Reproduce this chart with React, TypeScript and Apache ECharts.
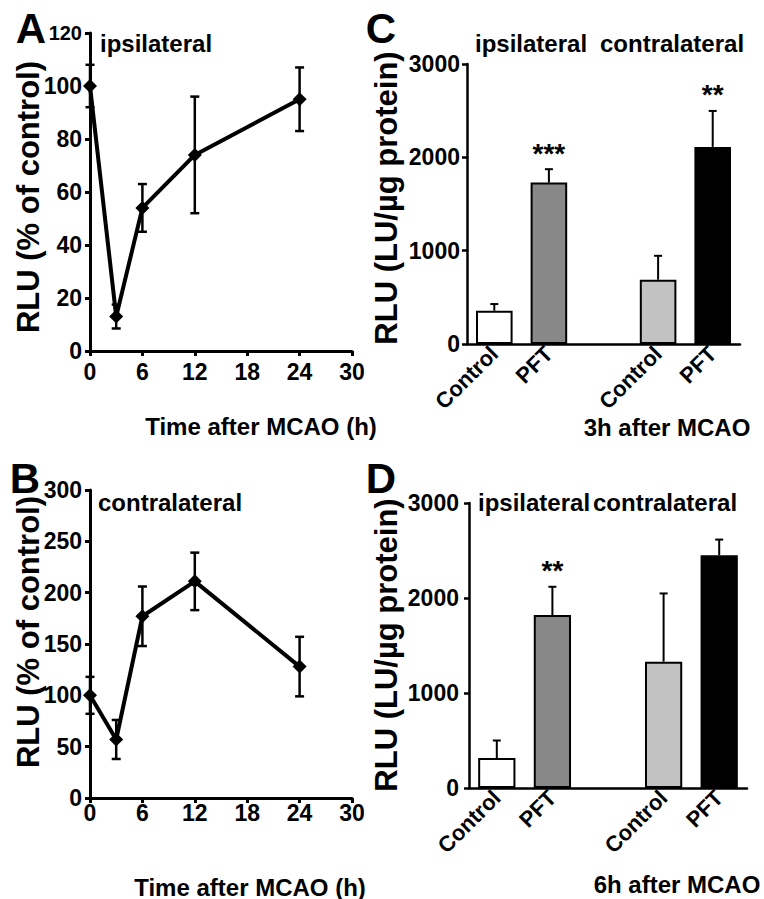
import React, { useEffect, useRef } from 'react';
import * as echarts from 'echarts';

// ---- data ----
const timeHours = [0, 3, 6, 12, 24];
const ipsiMean = [100, 13, 54, 74, 95];
const ipsiErr = [8, 4.5, 9, 22, 12];
const contraMean = [100, 57, 177, 211, 128];
const contraErr = [18, 19, 29, 28, 29];

const timeTicks = [0, 6, 12, 18, 24, 30];

const barCategories = ['Control', 'PFT', '', 'Control', 'PFT'];
const barColors = ['#ffffff', '#888888', '#ffffff', '#c2c2c2', '#000000'];
const bar3hMean = [357, 1730, null, 689, 2112];
const bar3hErr = [71, 143, null, 256, 385];
const bar3hStars = ['', '***', '', '', '**'];
const bar6hMean = [315, 1820, null, 1330, 2450];
const bar6hErr = [185, 298, null, 718, 165];
const bar6hStars = ['', '**', '', '', ''];

const FONT = 'Liberation Sans, Arial, Helvetica, sans-serif';

function lineErrorItem(params: any, api: any) {
  const x = api.value(0);
  const m = api.value(1);
  const e = api.value(2);
  const lo = api.coord([x, m - e]);
  const hi = api.coord([x, m + e]);
  const w = 4.5;
  const style = { stroke: '#000', lineWidth: 2.5 };
  return {
    type: 'group',
    children: [
      { type: 'line', shape: { x1: lo[0], y1: lo[1], x2: hi[0], y2: hi[1] }, style },
      { type: 'line', shape: { x1: lo[0] - w, y1: lo[1], x2: lo[0] + w, y2: lo[1] }, style },
      { type: 'line', shape: { x1: hi[0] - w, y1: hi[1], x2: hi[0] + w, y2: hi[1] }, style },
    ],
  };
}

function makeBarError(stars: string[]) {
  return (params: any, api: any) => {
    const i = api.value(0);
    const m = api.value(1);
    const e = api.value(2);
    const top = api.coord([i, m]);
    const hi = api.coord([i, m + e]);
    const w = 4;
    const style = { stroke: '#000', lineWidth: 2 };
    const children: any[] = [
      { type: 'line', shape: { x1: top[0], y1: top[1], x2: hi[0], y2: hi[1] }, style },
      { type: 'line', shape: { x1: hi[0] - w, y1: hi[1], x2: hi[0] + w, y2: hi[1] }, style },
    ];
    const s = stars[i];
    if (s) {
      children.push({
        type: 'text',
        x: hi[0],
        y: hi[1] - 16,
        style: {
          text: s,
          fontSize: 28,
          fontWeight: 'bold',
          fontFamily: FONT,
          fill: '#000',
          align: 'center',
          verticalAlign: 'middle',
        },
      });
    }
    return { type: 'group', children };
  };
}

const labelStyle = { fontSize: 23, fontWeight: 'bold' as const, fontFamily: FONT, color: '#000' };

function timeXAxis(gridIndex: number, margin: number) {
  return {
    type: 'value',
    gridIndex,
    min: 0,
    max: 30,
    interval: 6,
    axisLine: { show: true, lineStyle: { color: '#000', width: 3 } },
    axisTick: { show: true, length: 5, lineStyle: { color: '#000', width: 3 } },
    axisLabel: { ...labelStyle, margin, formatter: (v: number) => (timeTicks.includes(v) ? String(v) : '') },
    splitLine: { show: false },
  };
}

function valueYAxis(gridIndex: number, max: number, interval: number, width: number, margin: number, small?: number) {
  return {
    type: 'value',
    gridIndex,
    min: 0,
    max,
    interval,
    axisLine: { show: true, lineStyle: { color: '#000', width } },
    axisTick: { show: true, length: 5, lineStyle: { color: '#000', width } },
    axisLabel: {
      ...labelStyle,
      margin,
      formatter: (v: number) => (small !== undefined && v === small ? '{s|' + v + '}' : String(v)),
      rich: { s: { fontSize: 20, fontWeight: 'bold', fontFamily: FONT, color: '#000' } },
    },
    splitLine: { show: false },
  };
}

function catXAxis(gridIndex: number) {
  return {
    type: 'category',
    gridIndex,
    data: barCategories,
    boundaryGap: true,
    axisLine: { show: true, lineStyle: { color: '#000', width: 2.5 } },
    axisTick: { show: false },
    axisLabel: { fontSize: 22, fontWeight: 'bold', fontFamily: FONT, color: '#000', rotate: 45, margin: 6, interval: 0 },
    splitLine: { show: false },
  };
}

function lineSeries(idx: number, means: number[]) {
  return {
    type: 'line',
    xAxisIndex: idx,
    yAxisIndex: idx,
    data: timeHours.map((t, i) => [t, means[i]]),
    symbol: 'diamond',
    symbolSize: 14,
    clip: false,
    z: 3,
    lineStyle: { color: '#000', width: 4 },
    itemStyle: { color: '#000' },
  };
}

function lineErrSeries(idx: number, means: number[], errs: number[]) {
  return {
    type: 'custom',
    xAxisIndex: idx,
    yAxisIndex: idx,
    data: timeHours.map((t, i) => [t, means[i], errs[i]]),
    renderItem: lineErrorItem,
    z: 2,
  };
}

function barSeries(idx: number, means: (number | null)[]) {
  return {
    type: 'bar',
    xAxisIndex: idx,
    yAxisIndex: idx,
    barWidth: '67%',
    data: means.map((v, i) =>
      v === null ? '-' : { value: v, itemStyle: { color: barColors[i], borderColor: '#000', borderWidth: 2 } }
    ),
  };
}

function barErrSeries(idx: number, means: (number | null)[], errs: (number | null)[], stars: string[]) {
  const data: number[][] = [];
  means.forEach((m, i) => {
    if (m !== null && errs[i] !== null) data.push([i, m, errs[i] as number]);
  });
  return {
    type: 'custom',
    xAxisIndex: idx,
    yAxisIndex: idx,
    data,
    renderItem: makeBarError(stars),
    z: 3,
  };
}

function txt(text: string, x: number, y: number, fontSize: number, align: string = 'left', rotation = 0) {
  return {
    type: 'text',
    x,
    y,
    rotation,
    style: {
      text,
      fontSize,
      fontWeight: 'bold',
      fontFamily: FONT,
      fill: '#000',
      align,
      verticalAlign: 'middle',
    },
  };
}

export default function App() {
  const ref = useRef<HTMLDivElement>(null);
  useEffect(() => {
    document.body.style.margin = '0';
    if (!ref.current) return;
    const chart = echarts.init(ref.current, undefined, { renderer: 'svg' });
    const option: any = {
      animation: false,
      backgroundColor: '#ffffff',
      grid: [
        { left: 90, top: 33, width: 262, height: 318 },
        { left: 90, top: 490, width: 262, height: 308 },
        { left: 467, top: 64, width: 273, height: 280 },
        { left: 469, top: 503, width: 278, height: 285 },
      ],
      xAxis: [timeXAxis(0, 9), timeXAxis(1, 3), catXAxis(2), catXAxis(3)],
      yAxis: [
        valueYAxis(0, 120, 20, 3, 8, 120),
        valueYAxis(1, 300, 50, 3, 8),
        valueYAxis(2, 3000, 1000, 2.5, 7),
        valueYAxis(3, 3000, 1000, 2.5, 10),
      ],
      series: [
        lineErrSeries(0, ipsiMean, ipsiErr),
        lineSeries(0, ipsiMean),
        lineErrSeries(1, contraMean, contraErr),
        lineSeries(1, contraMean),
        barSeries(2, bar3hMean),
        barErrSeries(2, bar3hMean, bar3hErr, bar3hStars),
        barSeries(3, bar6hMean),
        barErrSeries(3, bar6hMean, bar6hErr, bar6hStars),
      ],
      graphic: [
        txt('A', 31, 28, 42, 'center'),
        txt('B', 25, 478, 42, 'center'),
        txt('C', 381, 28, 42, 'center'),
        txt('D', 381, 478, 42, 'center'),
        txt('ipsilateral', 100, 43, 24),
        txt('contralateral', 98, 502, 24),
        txt('ipsilateral', 475, 43, 24),
        txt('contralateral', 600, 43, 24),
        txt('ipsilateral', 478, 502, 24),
        txt('contralateral', 593, 502, 24),
        txt('Time after MCAO (h)', 261, 426, 24, 'center'),
        txt('Time after MCAO (h)', 250, 887, 24, 'center'),
        txt('3h after MCAO', 667, 427, 24, 'center'),
        txt('6h after MCAO', 677, 884, 24, 'center'),
        txt('RLU (% of control)', 28, 197, 31, 'center', Math.PI / 2),
        txt('RLU (% of control)', 28, 632, 31, 'center', Math.PI / 2),
        txt('RLU (LU/µg protein)', 386, 198, 31, 'center', Math.PI / 2),
        txt('RLU (LU/µg protein)', 386, 645, 31, 'center', Math.PI / 2),
      ],
    };
    chart.setOption(option);
    return () => chart.dispose();
  }, []);
  return <div ref={ref} style={{ width: 764, height: 899 }} />;
}
